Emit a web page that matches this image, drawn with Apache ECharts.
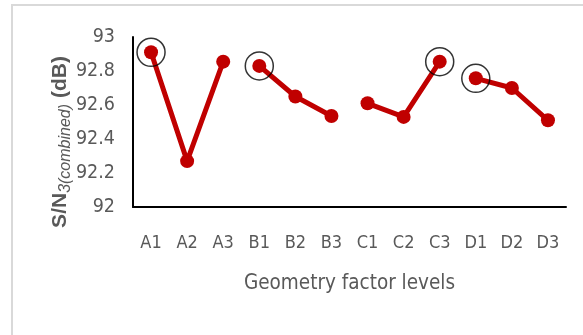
<!DOCTYPE html>
<html>
<head>
<meta charset="utf-8">
<script src="https://cdn.jsdelivr.net/npm/echarts@6/dist/echarts.min.js"></script>
<style>html,body{margin:0;padding:0;background:#fff;}#c{width:583px;height:335px;}</style>
</head>
<body>
<div id="c"></div>
<script>
const categories = ['A1','A2','A3','B1','B2','B3','C1','C2','C3','D1','D2','D3'];
const groupA = [92.91, 92.27, 92.855];
const groupB = [92.83, 92.65, 92.535];
const groupC = [92.61, 92.53, 92.855];
const groupD = [92.757, 92.70, 92.51];
const yTicks = [92, 92.2, 92.4, 92.6, 92.8, 93];
const optimalLevels = ['A1','B1','C3','D1'];

const groups = [groupA, groupB, groupC, groupD];
const FONT = "'DejaVu Sans Condensed', 'Liberation Sans', sans-serif";
const allVals = [].concat(...groups);

const lineSeries = groups.map((g, gi) => ({
  type: 'line',
  data: g.map((v, i) => [categories[gi * 3 + i], v]),
  lineStyle: { color: '#c00000', width: 5 },
  itemStyle: { color: '#c00000' },
  symbol: 'circle',
  symbolSize: 14,
  z: 3
}));

const circleSeries = {
  type: 'scatter',
  data: optimalLevels.map(c => [c, allVals[categories.indexOf(c)]]),
  symbol: 'circle',
  symbolSize: 28,
  itemStyle: { color: 'rgba(0,0,0,0)', borderColor: '#000', borderWidth: 1.5 },
  z: 4
};

const chart = echarts.init(document.getElementById('c'));
chart.setOption({
  animation: false,
  graphic: [{
    type: 'rect',
    shape: { x: 12, y: 5, width: 700, height: 500 },
    style: { fill: 'none', stroke: '#d9d9d9', lineWidth: 2 },
    silent: true
  }],
  grid: { left: 133, right: 17, top: 37, bottom: 128, containLabel: false },
  xAxis: {
    type: 'category',
    data: categories,
    boundaryGap: true,
    axisLine: { lineStyle: { color: '#000', width: 2 } },
    axisTick: { show: false },
    axisLabel: { color: '#595959', fontSize: 18, fontFamily: FONT, margin: 27 },
    name: 'Geometry factor levels',
    nameLocation: 'middle',
    nameGap: 66,
    nameTextStyle: { color: '#595959', fontSize: 20.5, fontFamily: FONT }
  },
  yAxis: {
    type: 'value',
    min: yTicks[0],
    max: yTicks[yTicks.length - 1],
    interval: 0.2,
    splitLine: { show: false },
    axisLine: { show: true, lineStyle: { color: '#000', width: 2 } },
    axisTick: { show: false },
    axisLabel: {
      color: '#595959', fontSize: 19.5, fontFamily: FONT, margin: 18,
      formatter: v => String(Math.round(v * 10) / 10)
    },
    name: '{a|S/N}{b|3(combined)}{a| (dB)}',
    nameLocation: 'middle',
    nameRotate: 90,
    nameGap: 62,
    nameMoveOverlap: false,
    nameTextStyle: {
      padding: [0, 40, 0, 0],
      rich: {
        a: { color: '#595959', fontSize: 21, fontWeight: 'bold', fontFamily: "'Liberation Sans', sans-serif", verticalAlign: 'bottom' },
        b: { color: '#595959', fontSize: 16, fontStyle: 'italic', fontFamily: "'Liberation Sans', sans-serif", verticalAlign: 'bottom', padding: [0, 0, -3, 0] }
      }
    }
  },
  series: [...lineSeries, circleSeries]
});
</script>
</body>
</html>
